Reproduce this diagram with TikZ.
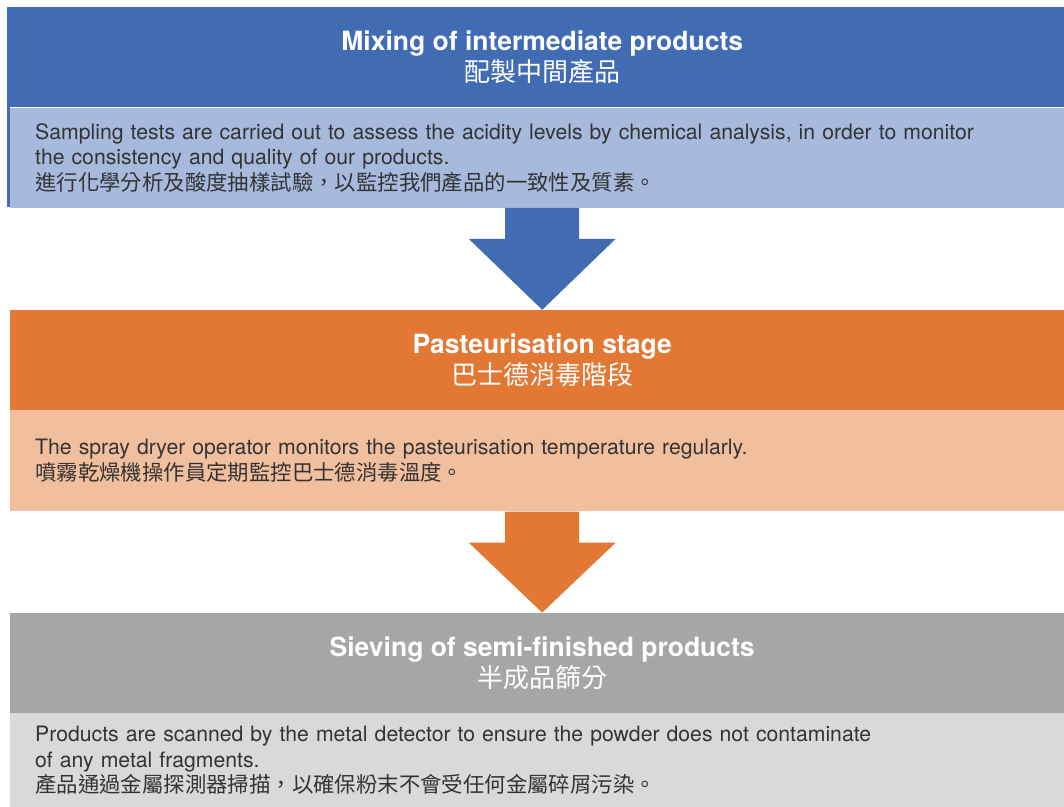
\documentclass[tikz,border=0pt]{standalone}
\usepackage{fontspec}
\setmainfont{TeX Gyre Heros}
\newfontfamily\cjk{Noto Sans CJK TC}
\usetikzlibrary{positioning,calc}
\definecolor{mixblue}{HTML}{416CB3}
\definecolor{mixbluelight}{HTML}{A7B9DD}
\definecolor{pastorange}{HTML}{E27833}
\definecolor{pastorangelight}{HTML}{F2BF9E}
\definecolor{sievegray}{HTML}{A5A6A5}
\definecolor{sievegraylight}{HTML}{D9D9D9}
\definecolor{bodytext}{HTML}{333333}
\tikzset{
  stagehead/.style={fill=#1, minimum width=1064pt, minimum height=100pt,
    inner sep=0pt, text=white, align=center,
    font=\fontsize{26.5}{31}\selectfont},
  stagebody/.style={fill=#1, minimum width=1064pt, minimum height=100pt,
    inner xsep=25pt, inner ysep=0pt, text width=1014pt, align=left,
    text=bodytext, font=\fontsize{21.2}{25.5}\selectfont},
}

\begin{document}
\begin{tikzpicture}
\newcommand{\flowarrow}[3]{%
  \fill[#3] ($(#1.south)+(-37pt,0)$) -- ++(0,-31pt) -- ++(-36.5pt,0)
    -- (#2.north) -- ($(#1.south)+(73.5pt,-31pt)$) -- ++(-36.5pt,0)
    -- ++(0,31pt) -- cycle;}
\useasboundingbox (0,0) rectangle (1064pt,-806pt);
\clip (0,0) rectangle (1064pt,-806pt);
% mixing
\node[stagehead=mixblue, anchor=north west] (head1) at (10pt,-7pt)
  {\textbf{Mixing of intermediate products}\\{\cjk\fontsize{26}{31}\selectfont 配製中間產品}};
\node[stagebody=mixbluelight, below=0pt of head1] (body1)
  {Sampling tests are carried out to assess the acidity levels by chemical analysis, in order to monitor\\
   the consistency and quality of our products.\\
   {\cjk\fontsize{21.4}{25.5}\selectfont 進行化學分析及酸度抽樣試驗，以監控我們產品的一致性及質素。}};
\fill[mixblue] (7pt,-7pt) rectangle (10pt,-207pt);
% pasteurisation
\node[stagehead=pastorange, below=102pt of body1] (head2)
  {\textbf{Pasteurisation stage}\\{\cjk\fontsize{26}{31}\selectfont 巴士德消毒階段}};
\node[stagebody=pastorangelight, minimum height=101pt, below=0pt of head2] (body2)
  {The spray dryer operator monitors the pasteurisation temperature regularly.\\
   {\cjk\fontsize{21.4}{25.5}\selectfont 噴霧乾燥機操作員定期監控巴士德消毒溫度。}};
% sieving
\node[stagehead=sievegray, below=101pt of body2] (head3)
  {\textbf{Sieving of semi-finished products}\\{\cjk\fontsize{26}{31}\selectfont 半成品篩分}};
\node[stagebody=sievegraylight, minimum height=95pt, below=0pt of head3] (body3)
  {Products are scanned by the metal detector to ensure the powder does not contaminate\\
   of any metal fragments.\\
   {\cjk\fontsize{21.4}{25.5}\selectfont 產品通過金屬探測器掃描，以確保粉末不會受任何金屬碎屑污染。}};
% arrows
\flowarrow{body1}{head2}{mixblue}
\flowarrow{body2}{head3}{pastorange}
\end{tikzpicture}
\end{document}
